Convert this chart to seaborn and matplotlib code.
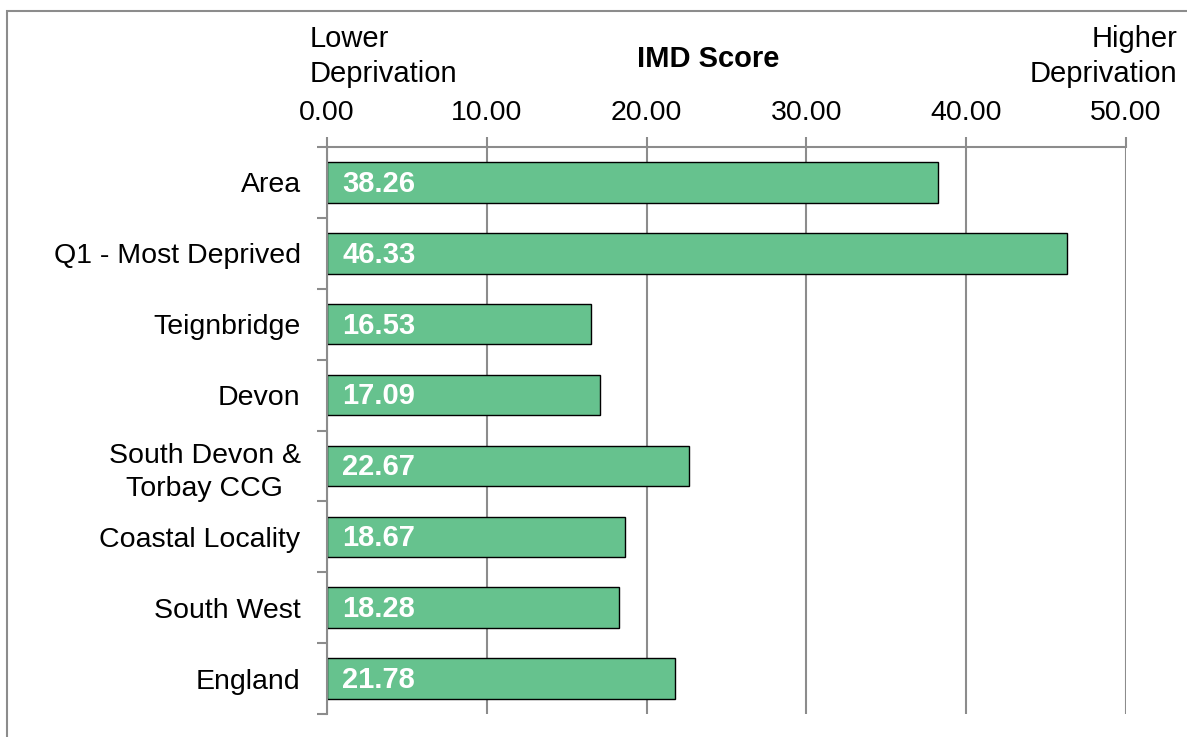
import numpy as np
import seaborn as sns
import matplotlib.pyplot as plt
from matplotlib.patches import Rectangle

categories = ['Area', 'Q1 - Most Deprived', 'Teignbridge', 'Devon',
              'South Devon &\nTorbay CCG', 'Coastal Locality', 'South West', 'England']
scores = [38.26, 46.33, 16.53, 17.09, 22.67, 18.67, 18.28, 21.78]
xticks = [0, 10, 20, 30, 40, 50]

sns.set_style('white')
plt.rcParams['font.family'] = ['Liberation Sans', 'DejaVu Sans']
plt.rcParams['text.color'] = 'black'
plt.rcParams['xtick.labelcolor'] = 'black'
plt.rcParams['ytick.labelcolor'] = 'black'
grey = '#8c8c8c'
fs = 21

fig = plt.figure(figsize=(11.87, 7.37), dpi=100)
ax = fig.add_axes([327 / 1187, 1 - 714 / 737, (1126 - 327) / 1187, (714 - 147) / 737])

sns.barplot(x=scores, y=categories, orient='h', color='#66c28e', saturation=1,
            edgecolor='black', linewidth=1, width=0.57, ax=ax)

ax.set_xlim(0, 50)
ax.set_ylim(len(categories) - 0.5, -0.5)
ax.set_xticks(xticks)
ax.set_xticklabels([f'{t:.2f}' for t in xticks])
ax.xaxis.tick_top()
ax.tick_params(axis='x', which='major', length=7, width=1.5, color=grey,
               labelsize=20.5, pad=8, direction='out')
ax.set_yticks(np.arange(len(categories)))
ax.set_yticks(np.arange(len(categories) + 1) - 0.5, minor=True)
ax.tick_params(axis='y', which='major', length=0, labelsize=20.5, pad=19)
ax.tick_params(axis='y', which='minor', length=7, width=1.5, color=grey, left=True)
for lab in ax.get_yticklabels():
    lab.set_multialignment('center')
    lab.set_linespacing(1.35)
ax.set_xlabel('')
ax.set_ylabel('')

ax.grid(axis='x', color=grey, lw=1.5)
ax.set_axisbelow(True)
for side in ['bottom', 'right']:
    ax.spines[side].set_visible(False)
for side in ['top', 'left']:
    ax.spines[side].set_color(grey)
    ax.spines[side].set_linewidth(1.5)

for i, v in enumerate(scores):
    ax.annotate(f'{v:.2f}', xy=(0, i), xytext=(11, -1), textcoords='offset points',
                color='white', fontweight='bold', fontsize=fs, va='center', ha='left')

fig.text(310 / 1187, 1 - 25 / 737, 'Lower\nDeprivation', fontsize=fs, ha='left', va='top',
         linespacing=1.3)
fig.text(1177 / 1187, 1 - 25 / 737, 'Higher\nDeprivation', fontsize=fs, ha='right', va='top',
         linespacing=1.3, multialignment='right')
fig.text(708 / 1187, 1 - 59 / 737, 'IMD Score', fontsize=fs, fontweight='bold',
         ha='center', va='center')

fig.patches.append(Rectangle((7 / 1187, -0.05), 1.2, 1 - 11 / 737 + 0.05,
                             transform=fig.transFigure, fill=False,
                             edgecolor=grey, lw=1.5))

fig.savefig('out.png', dpi=100)
